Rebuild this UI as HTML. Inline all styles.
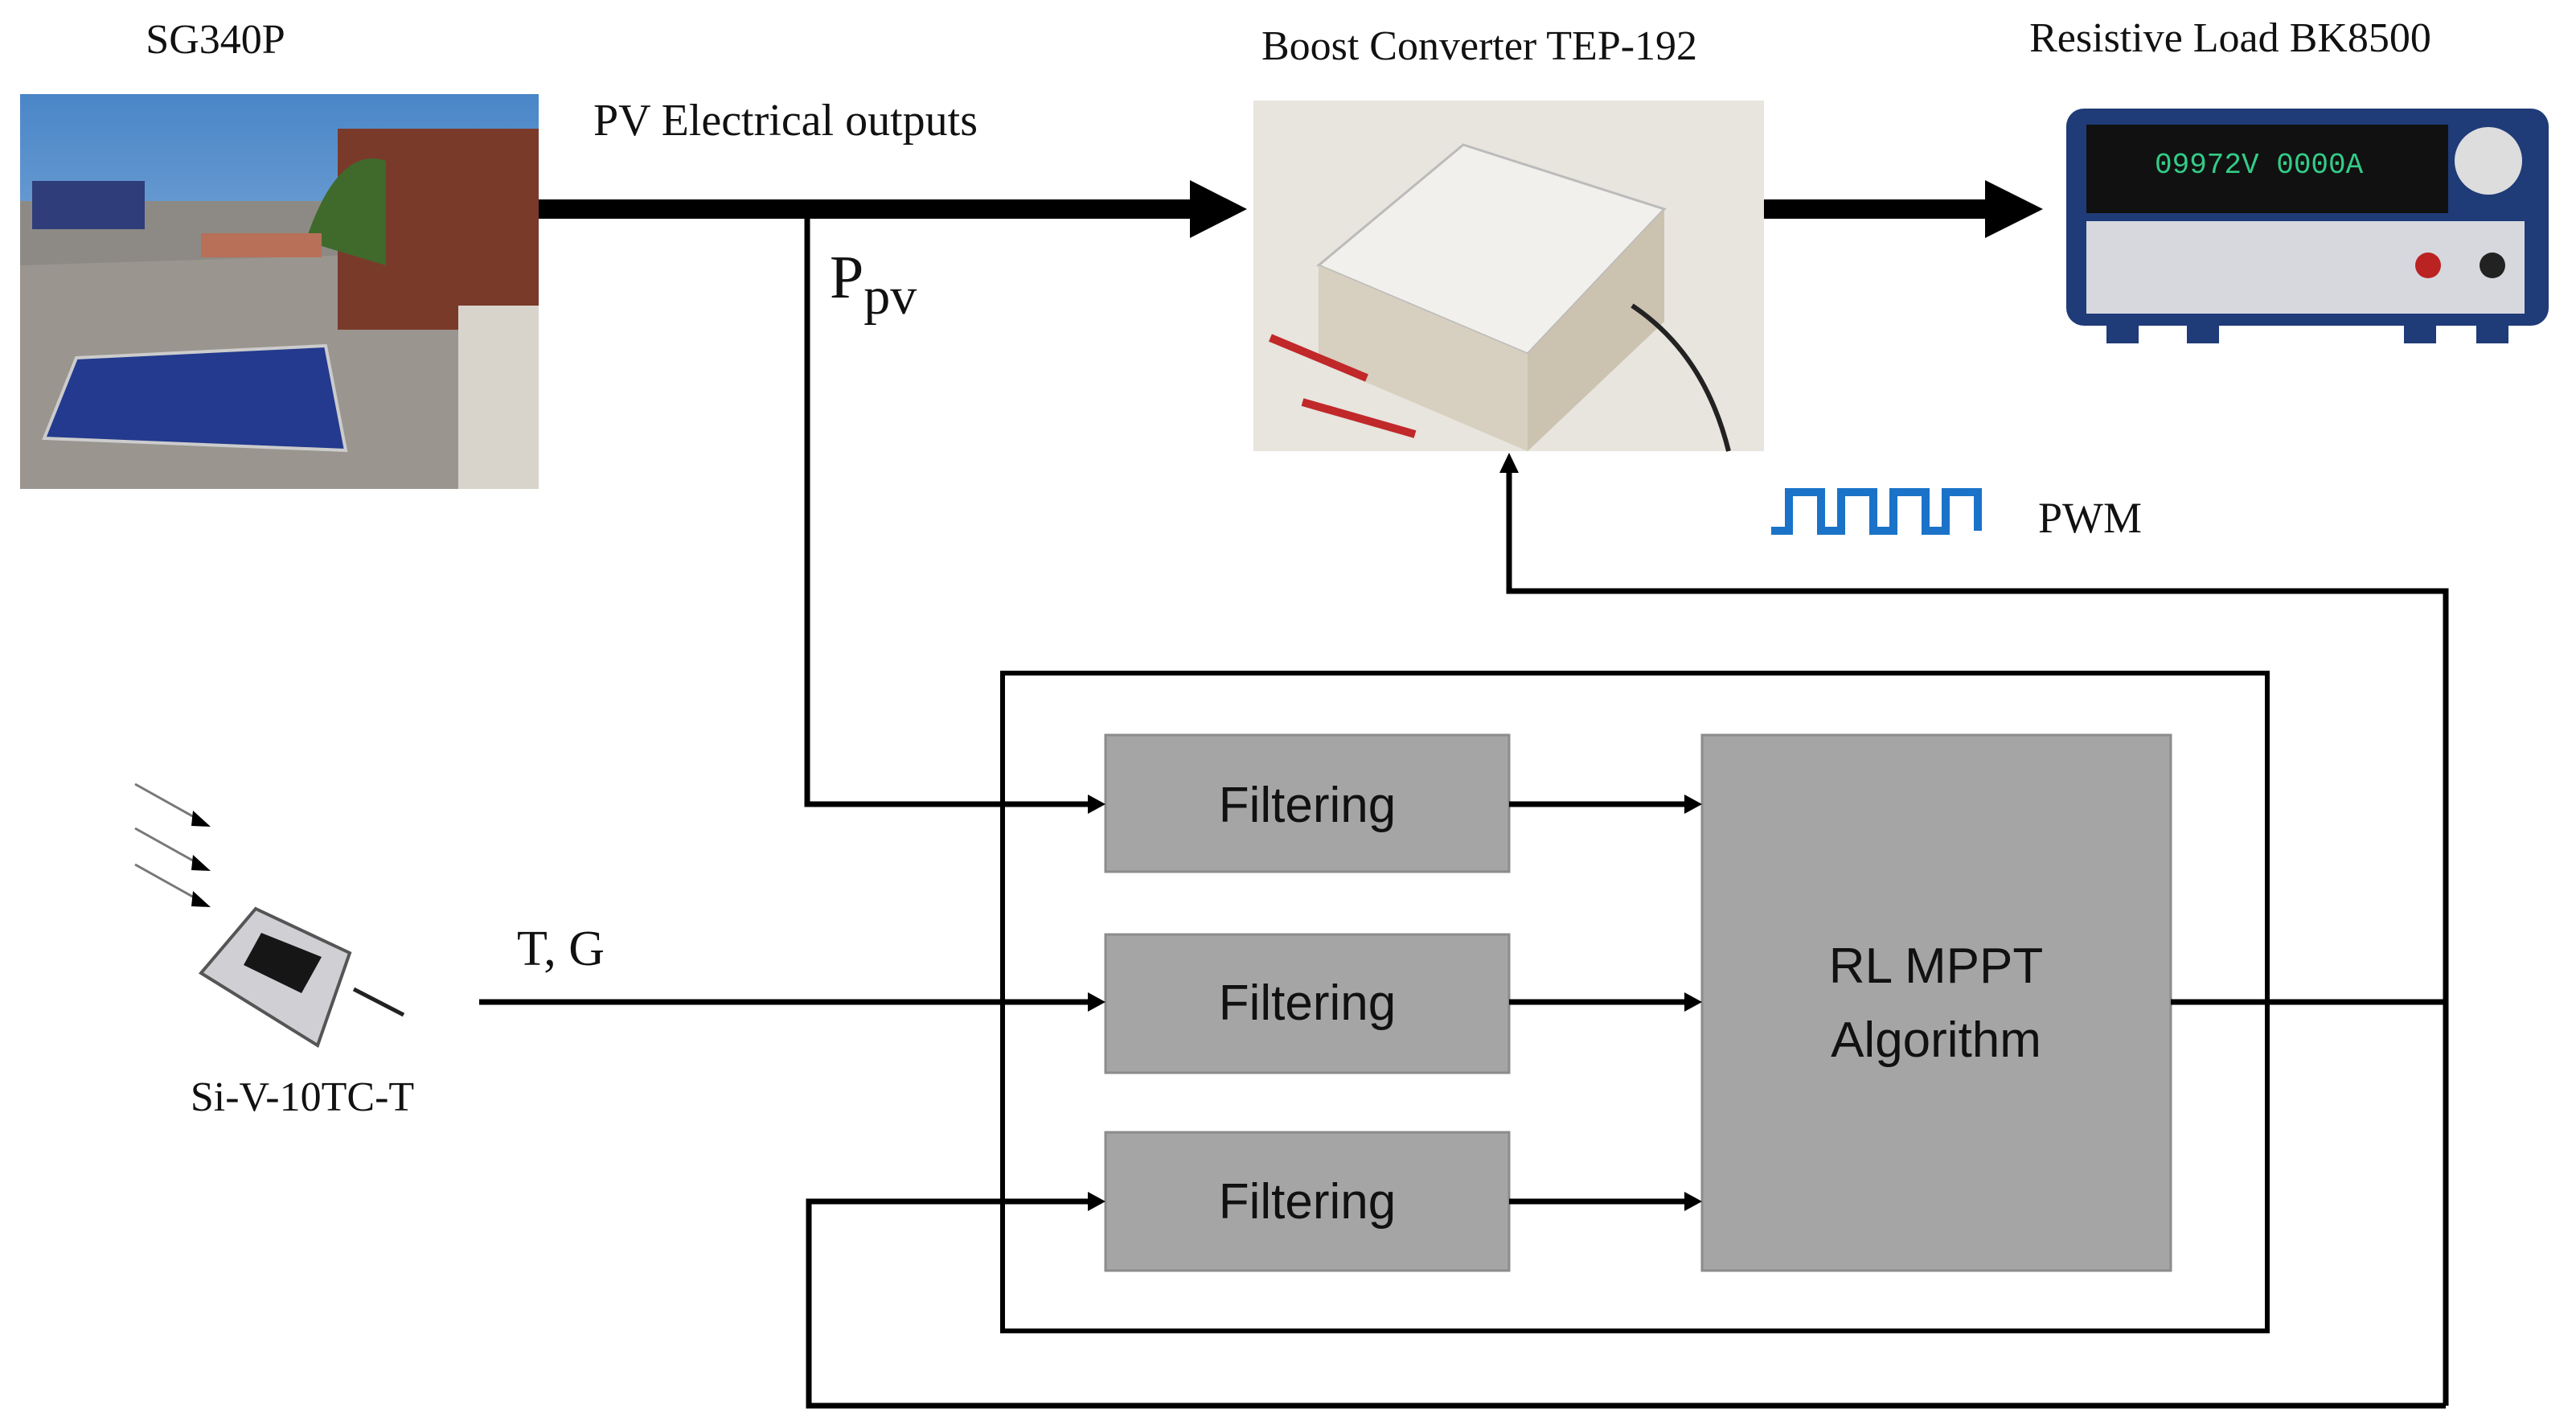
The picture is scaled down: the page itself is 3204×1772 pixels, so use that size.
<!DOCTYPE html>
<html><head><meta charset="utf-8"><style>
html,body{margin:0;padding:0;background:#fff}
svg{display:block}
.s{font-family:"Liberation Serif",serif;fill:#111}
.f{font-family:"Liberation Sans",sans-serif;fill:#111}
</style></head><body>
<svg width="3204" height="1772" viewBox="0 0 3204 1772" xmlns="http://www.w3.org/2000/svg">
<defs>
<linearGradient id="sky" x1="0" y1="0" x2="0" y2="1"><stop offset="0" stop-color="#4a86c8"/><stop offset="1" stop-color="#a9c8e6"/></linearGradient>
</defs>
<!-- Solar photo -->
<rect x="25" y="117" width="645" height="491" fill="url(#sky)"/>
<rect x="25" y="250" width="645" height="358" fill="#8d8a86"/>
<polygon points="25,330 670,310 670,608 25,608" fill="#9a958f"/>
<rect x="420" y="160" width="250" height="250" fill="#7a3a2a"/>
<path d="M380,300 Q420,180 480,200 L480,330 Z" fill="#3f6a2c"/>
<rect x="40" y="225" width="140" height="60" fill="#2f3d7a"/>
<rect x="250" y="290" width="150" height="30" fill="#b87058"/>
<polygon points="95,445 405,430 430,560 55,545" fill="#233a8e" stroke="#ccc" stroke-width="4"/>
<rect x="570" y="380" width="100" height="228" fill="#d8d4cc"/>
<!-- Boost photo -->
<rect x="1559" y="125" width="635" height="436" fill="#e8e4de"/>
<polygon points="1640,330 1820,180 2070,260 1900,440" fill="#f2f0ec" stroke="#bbb" stroke-width="3"/>
<polygon points="1640,330 1900,440 1900,561 1640,450" fill="#d7cfbf"/>
<polygon points="1900,440 2070,260 2070,400 1900,561" fill="#cbc2b0"/>
<path d="M1580,420 L1700,470 M1620,500 L1760,540" stroke="#c0282a" stroke-width="10"/>
<path d="M2030,380 Q2120,440 2150,561" stroke="#222" stroke-width="6" fill="none"/>
<!-- Load image -->
<rect x="2570" y="135" width="600" height="270" rx="22" fill="#1f3b78"/>
<rect x="2595" y="155" width="450" height="110" fill="#111"/>
<text x="2680" y="215" font-family="Liberation Mono,monospace" font-size="36" fill="#3c8">09972V  0000A</text>
<circle cx="3095" cy="200" r="42" fill="#ddd"/>
<rect x="2595" y="275" width="545" height="115" fill="#d6d8de"/>
<circle cx="3020" cy="330" r="16" fill="#b22"/><circle cx="3100" cy="330" r="16" fill="#222"/>
<rect x="2620" y="405" width="40" height="22" fill="#1f3b78"/><rect x="2720" y="405" width="40" height="22" fill="#1f3b78"/><rect x="2990" y="405" width="40" height="22" fill="#1f3b78"/><rect x="3080" y="405" width="40" height="22" fill="#1f3b78"/>
<!-- Titles -->
<text x="268" y="66" class="s" font-size="52" text-anchor="middle">SG340P</text>
<text x="1840" y="74" class="s" font-size="52" text-anchor="middle">Boost Converter TEP-192</text>
<text x="2774" y="64" class="s" font-size="52" text-anchor="middle">Resistive Load BK8500</text>
<text x="738" y="168" class="s" font-size="56">PV Electrical outputs</text>
<text x="1032" y="370" class="s" font-size="76">P<tspan font-size="66" dy="20">pv</tspan></text>
<!-- thick arrows -->
<rect x="670" y="248" width="820" height="24" fill="#000"/>
<polygon points="1480,224 1551,260 1480,296" fill="#000"/>
<rect x="2194" y="248" width="285" height="24" fill="#000"/>
<polygon points="2469,224 2541,260 2469,296" fill="#000"/>
<!-- PWM -->
<path d="M2203,660 L2225,660 L2225,612 L2265,612 L2265,660 L2290,660 L2290,612 L2330,612 L2330,660 L2355,660 L2355,612 L2395,612 L2395,660 L2420,660 L2420,612 L2460,612 L2460,660" stroke="#1a73c8" stroke-width="10" fill="none"/>
<text x="2535" y="662" class="s" font-size="54">PWM</text>
<!-- outer rect -->
<rect x="1247" y="837" width="1573" height="818" fill="none" stroke="#000" stroke-width="6"/>
<!-- boxes -->
<rect x="1375" y="914" width="502" height="170" fill="#a5a5a5" stroke="#8c8c8c" stroke-width="3"/>
<rect x="1375" y="1162" width="502" height="172" fill="#a5a5a5" stroke="#8c8c8c" stroke-width="3"/>
<rect x="1375" y="1408" width="502" height="172" fill="#a5a5a5" stroke="#8c8c8c" stroke-width="3"/>
<rect x="2117" y="914" width="583" height="666" fill="#a5a5a5" stroke="#8c8c8c" stroke-width="3"/>
<text x="1626" y="1022" class="f" font-size="62" text-anchor="middle">Filtering</text>
<text x="1626" y="1268" class="f" font-size="62" text-anchor="middle">Filtering</text>
<text x="1626" y="1515" class="f" font-size="62" text-anchor="middle">Filtering</text>
<text x="2408" y="1222" class="f" font-size="62" text-anchor="middle">RL MPPT</text>
<text x="2408" y="1314" class="f" font-size="62" text-anchor="middle">Algorithm</text>
<!-- connectors -->
<g stroke="#000" stroke-width="7" fill="none">
<path d="M1004,272 L1004,1000 L1355,1000"/>
<path d="M596,1246 L1355,1246"/>
<path d="M1877,1000 L2098,1000"/>
<path d="M1877,1246 L2098,1246"/>
<path d="M1877,1494 L2098,1494"/>
<path d="M2700,1246 L3042,1246"/>
<path d="M3042,1748 L3042,735 L1877,735 L1877,585"/>
<path d="M3042,1748 L1006,1748 L1006,1494 L1355,1494"/>
</g>
<g fill="#000">
<polygon points="1353,988 1375,1000 1353,1012"/>
<polygon points="1353,1234 1375,1246 1353,1258"/>
<polygon points="1353,1482 1375,1494 1353,1506"/>
<polygon points="2095,988 2117,1000 2095,1012"/>
<polygon points="2095,1234 2117,1246 2095,1258"/>
<polygon points="2095,1482 2117,1494 2095,1506"/>
<polygon points="1865,588 1877,563 1889,588"/>
</g>
<!-- sensor -->
<g stroke="#777" stroke-width="3"><line x1="168" y1="975" x2="245" y2="1018"/><line x1="168" y1="1030" x2="245" y2="1073"/><line x1="168" y1="1075" x2="245" y2="1118"/></g>
<polygon points="240,1008 262,1028 238,1027" fill="#000"/><polygon points="240,1063 262,1083 238,1082" fill="#000"/><polygon points="240,1108 262,1128 238,1127" fill="#000"/>
<polygon points="318,1130 435,1185 395,1300 250,1210" fill="#cfcfd4" stroke="#555" stroke-width="4"/>
<polygon points="325,1160 400,1190 375,1235 303,1200" fill="#161616"/>
<line x1="440" y1="1230" x2="502" y2="1262" stroke="#222" stroke-width="5"/>
<text x="376" y="1381" class="s" font-size="52" text-anchor="middle">Si-V-10TC-T</text>
<text x="643" y="1200" class="s" font-size="62">T, G</text>
</svg>
</body></html>
